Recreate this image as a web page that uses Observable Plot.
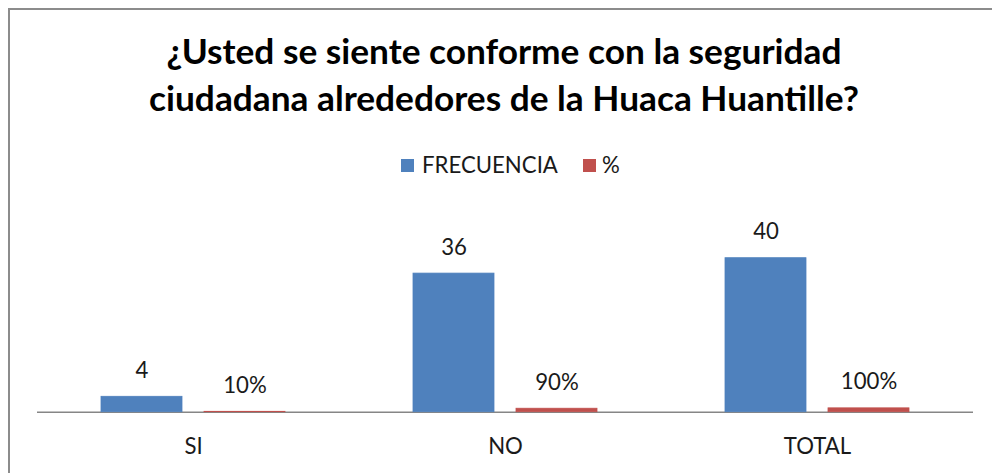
<!DOCTYPE html>
<html>
<head>
<meta charset="utf-8">
<script src="https://cdn.jsdelivr.net/npm/d3@7"></script>
<script src="https://cdn.jsdelivr.net/npm/@observablehq/plot@0.6"></script>
<style>
  html, body { margin: 0; padding: 0; background: #fff; }
  body { width: 992px; height: 473px; overflow: hidden; position: relative; font-family: Lato, "Open Sans", sans-serif; }
  #frame { position: absolute; left: 8px; top: 8px; width: 1200px; height: 800px;
           border-left: 2px solid #8c8c8c; border-top: 2px solid #8c8c8c; box-sizing: border-box; }
  #header { position: absolute; left: 0; top: 0; }
  #chart { position: absolute; left: 0; top: 190px; }
</style>
</head>
<body>
<div id="frame"></div>
<div id="header"></div>
<div id="chart"></div>
<script>
// ---- data ----
const titleLines = ["¿Usted se siente conforme con la seguridad", "ciudadana alrededores de la Huaca Huantille?"];
const categories = ["SI", "NO", "TOTAL"];
const seriesNames = ["FRECUENCIA", "%"];
const frecuencia = [4, 36, 40];
const porcentaje = [0.10, 0.90, 1.00];
const porcentajeLabels = ["10%", "90%", "100%"];
const seriesColors = ["#4F81BD", "#C0504D"];

const rows = [];
categories.forEach((c, i) => {
  rows.push({cat: c, series: seriesNames[0], value: frecuencia[i], label: String(frecuencia[i])});
  rows.push({cat: c, series: seriesNames[1], value: porcentaje[i], label: porcentajeLabels[i]});
});

// ---- font fitting (Calibri substitute) ----
const ctx = document.createElement("canvas").getContext("2d");
function fit(text, weight, target) {
  ctx.font = `${weight} 100px Lato`;
  return 100 * target / ctx.measureText(text).width;
}
const titleFs = fit(titleLines[0], "bold", 675);
const labelFs = fit("FRECUENCIA", "normal", 136);
const textColor = "#1a1a1a";

// ---- header (title + legend) ----
const W = 992;
const header = d3.select("#header").append("svg")
  .attr("width", W).attr("height", 190)
  .style("font-family", "Lato, 'Open Sans', sans-serif");
header.selectAll("text.title").data(titleLines).join("text")
  .attr("class", "title")
  .attr("x", 504).attr("y", (d, i) => 63.5 + i * 47)
  .attr("text-anchor", "middle")
  .attr("font-weight", "bold")
  .attr("font-size", titleFs)
  .attr("fill", "#000")
  .text(d => d);

const legendItems = [
  {name: seriesNames[0], color: seriesColors[0], sx: 401, tx: 422},
  {name: seriesNames[1], color: seriesColors[1], sx: 583, tx: 602}
];
const lg = header.selectAll("g.leg").data(legendItems).join("g").attr("class", "leg");
lg.append("rect").attr("x", d => d.sx).attr("y", 159).attr("width", 13).attr("height", 13).attr("fill", d => d.color);
lg.append("text").attr("x", d => d.tx).attr("y", 172.5)
  .attr("font-size", labelFs).attr("fill", textColor).text(d => d.name);

// ---- chart ----
const chartH = 283;
const baseline = 411.7 - 190;   // y of value 0 within chart svg
const yMax = 50;
const pxPerUnit = 3.85;
const marginTop = baseline - yMax * pxPerUnit;
const marginBottom = chartH - baseline;

const chart = Plot.plot({
  width: W,
  height: chartH,
  marginLeft: 37,
  marginRight: 19,
  marginTop,
  marginBottom,
  style: {fontFamily: "Lato, 'Open Sans', sans-serif", fontSize: labelFs + "px", color: textColor, background: "transparent"},
  fx: {domain: categories, padding: 0, axis: "bottom", tickSize: 0, tickPadding: 41.6 - 0.71 * labelFs, label: null},
  x: {domain: seriesNames, axis: null, paddingInner: 0.21, paddingOuter: 0.61},
  y: {domain: [0, yMax], axis: null},
  color: {domain: seriesNames, range: seriesColors},
  marks: [
    Plot.ruleY([0], {stroke: "#868686", strokeWidth: 1.5}),
    Plot.barY(rows, {fx: "cat", x: "series", y: "value", fill: "series", stroke: "series", strokeWidth: 0.8}),
    Plot.text(rows, {fx: "cat", x: "series", y: "value", text: "label", lineAnchor: "bottom",
                     dy: -19, fill: textColor, fontSize: labelFs})
  ]
});
document.getElementById("chart").appendChild(chart);
</script>
</body>
</html>
